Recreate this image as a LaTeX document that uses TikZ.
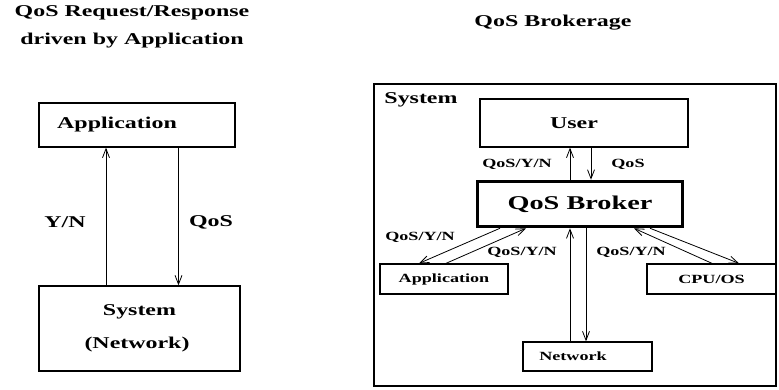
\documentclass[tikz,border=0pt]{standalone}
\usepackage{fontspec}
\usepackage{tikz}
\usetikzlibrary{arrows.meta,positioning,calc}
\newfontfamily\figfont{Liberation Serif}[FakeStretch=1.45]

\begin{document}
\begin{tikzpicture}[
    x=1pt, y=-1pt,
    box/.style={rectangle, draw, line width=1.3pt, inner sep=0pt},
    arrow/.style={-{Straight Barb[length=9pt, width=7pt]}, line width=0.8pt},
    bigtext/.style={font=\figfont\bfseries\fontsize{16.5}{28}\selectfont},
    smalltext/.style={font=\figfont\bfseries\fontsize{12.5}{15}\selectfont}
]
    \useasboundingbox (0,0) rectangle (779,389);

    % left: request/response
    \node[bigtext, align=center] (title1) at (132,27) {QoS Request/Response\\driven by Application};
    \node[box, bigtext, minimum width=196pt, minimum height=44pt] (app) at (137,125) {Application\hspace*{40pt}};
    \node[box, bigtext, align=center, minimum width=201pt, minimum height=85pt] (sys) at (139.5,328.5) {System\\[5pt](Network)\hspace*{5pt}};

    \draw[arrow] (sys.north -| 106,0) -- (app.south -| 106,0);
    \draw[arrow] (app.south -| 178.5,0) -- (sys.north -| 178.5,0);

    \node[bigtext] (yn) at (65,222) {Y/N};
    \node[bigtext] (qos) at (211,222) {QoS};

    % right: brokerage
    \node[bigtext] (title2) at (553,23) {QoS Brokerage};
    \node[box, minimum width=402pt, minimum height=302pt] (frame) at (575,235) {};
    \node[bigtext] (framelabel) at (421,100) {System};

    \node[box, bigtext, minimum width=208pt, minimum height=48pt] (user) at (584,123) {User\hspace*{20pt}};
    \node[box, line width=3.5pt, font=\figfont\bfseries\fontsize{19.5}{22}\selectfont, minimum width=205pt, minimum height=45pt] (broker) at (580,204) {QoS Broker};
    \node[box, smalltext, minimum width=128pt, minimum height=30pt] (appl) at (444,279) {Application};
    \node[box, smalltext, minimum width=129pt, minimum height=30pt] (cpu) at (711.5,279) {\raisebox{-3pt}{CPU/OS}};
    \node[box, smalltext, minimum width=129pt, minimum height=29pt] (net) at (587.5,356.5) {Network\hspace*{29pt}};

    \draw[arrow] (broker.north -| 570,0) -- (user.south -| 570,0);
    \draw[arrow] (user.south -| 591,0) -- (broker.north -| 591,0);
    \draw[arrow] (net.north -| 570,0) -- (broker.south -| 570,0);
    \draw[arrow] (broker.south -| 586,0) -- (net.north -| 586,0);

    \draw[arrow] (broker.south -| 500,0) -- (appl.north -| 419,0);
    \draw[arrow] (appl.north -| 446,0) -- (broker.south -| 526,0);
    \draw[arrow] (cpu.north -| 712,0) -- (broker.south -| 634,0);
    \draw[arrow] (broker.south -| 650,0) -- (cpu.north -| 739,0);

    \node[smalltext] (lbuser) at (517,164) {QoS/Y/N};
    \node[smalltext] (lbqos) at (628,164) {QoS};
    \node[smalltext] (lbappl) at (420,237) {QoS/Y/N};
    \node[smalltext] (lbnet) at (522,252) {QoS/Y/N};
    \node[smalltext] (lbcpu) at (631,252) {QoS/Y/N};
\end{tikzpicture}
\end{document}
